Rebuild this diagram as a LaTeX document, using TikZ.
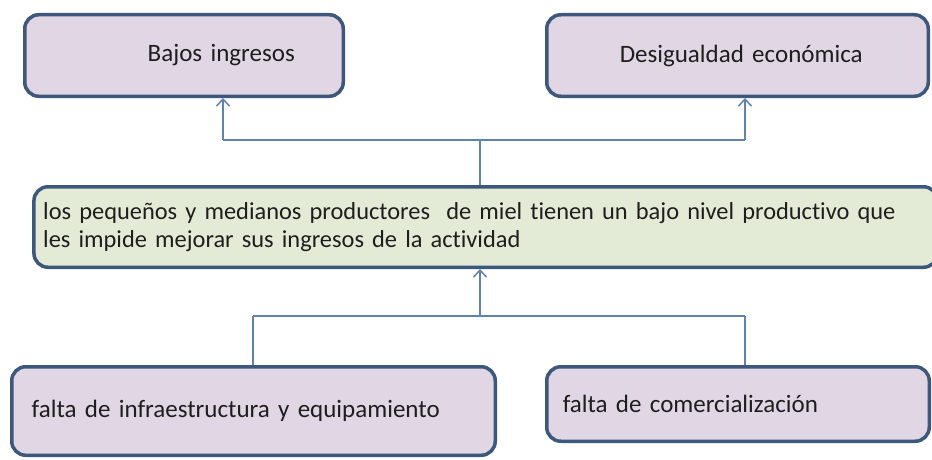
\documentclass[tikz,border=0pt]{standalone}
\usepackage{fontspec}
\setmainfont[Ligatures=NoCommon]{Carlito}
\usetikzlibrary{arrows.meta}
\definecolor{lav}{RGB}{224,214,228}
\definecolor{grn}{RGB}{227,234,213}
\definecolor{edgeblue}{RGB}{62,88,124}
\definecolor{linkblue}{RGB}{95,130,175}
\definecolor{txt}{RGB}{30,30,30}
\begin{document}
\begin{tikzpicture}[x=1pt,y=-1pt,
  box/.style={draw=edgeblue, line width=3.5pt, rounded corners=14pt, fill=lav,
    inner sep=0pt, align=left, text=txt, font=\fontsize{25}{28}\selectfont},
  greenbox/.style={box, fill=grn, font=\fontsize{24.4}{28}\selectfont},
  link/.style={draw=linkblue, line width=1.5pt},
  arr/.style={link, -{Straight Barb[length=7pt,width=13pt,line width=1.5pt]}}
]
\useasboundingbox (0,0) rectangle (932,460);

% boxes (path dimensions = outer minus line width)
\node[box, minimum width=318.5pt, minimum height=81.5pt, text width=318.5pt] (A) at (184,55.5)
  {\hspace*{123pt}Bajos ingresos};
\node[box, minimum width=381.5pt, minimum height=81.5pt, text width=381.5pt] (B) at (737.5,55.5)
  {\hspace*{73pt}Desigualdad económica};
\node[greenbox, minimum width=903.5pt, minimum height=80.5pt, text width=885pt] (C) at (485.7,227)
  {los pequeños y medianos productores~ de miel tienen un bajo nivel productivo que\\
   les impide mejorar sus ingresos de la actividad};
\node[box, minimum width=483.5pt, minimum height=88.5pt, text width=483.5pt] (D) at (253.5,411)
  {\hspace*{20pt}falta de infraestructura y equipamiento};
\node[box, minimum width=382.5pt, minimum height=74.5pt, text width=382.5pt] (E) at (738,404)
  {\hspace*{16pt}falta de comercialización};

% upper connectors
\coordinate (hubT) at (480,140);
\coordinate (aT) at (223,140);
\coordinate (bT) at (745,140);
\draw[link] (hubT |- C.north) -- (hubT);
\draw[link] (aT) -- (bT);
\draw[arr] (aT) -- (aT |- A.south);
\draw[arr] (bT) -- (bT |- B.south);

% lower connectors
\coordinate (hubB) at (480,316);
\coordinate (dT) at (253,316);
\coordinate (eT) at (745,316);
\draw[arr] (hubB) -- (hubB |- C.south);
\draw[link] (dT) -- (eT);
\draw[link] (dT) -- (dT |- D.north);
\draw[link] (eT) -- (eT |- E.north);
\end{tikzpicture}
\end{document}
